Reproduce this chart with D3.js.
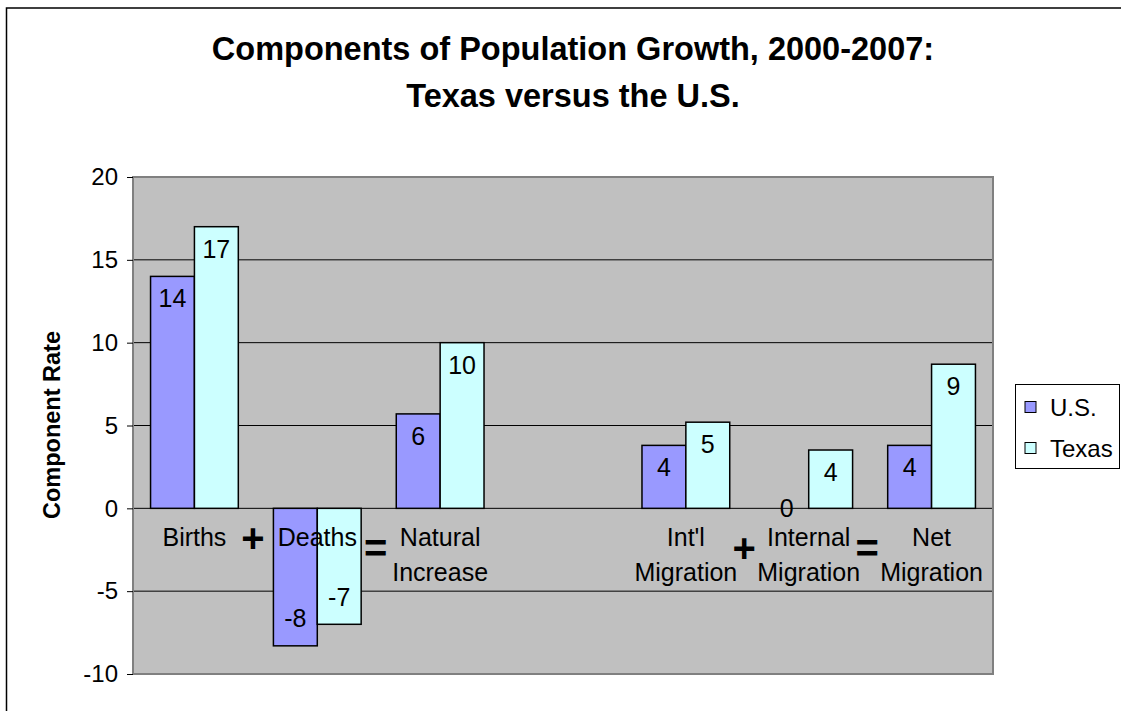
<!DOCTYPE html>
<meta charset="utf-8">
<script src="https://cdn.jsdelivr.net/npm/d3@7/dist/d3.min.js"></script>
<style>
body { margin: 0; background: #fff; overflow: hidden; }
text { font-family: "Liberation Sans", Arial, sans-serif; fill: #000; }
</style>
<body>
<script>

// data
var categories = ["Births", "Deaths", "Natural Increase", "", "Int'l Migration", "Internal Migration", "Net Migration"];
var series = ["U.S.", "Texas"];
var usValues    = [14.0, -8.3, 5.7, null, 3.8, 0, 3.8];
var texasValues = [17.0, -7.0, 10.0, null, 5.2, 3.52, 8.7];
var colors = ["#9999FF", "#CCFFFF"];
var yTicks = [-10, -5, 0, 5, 10, 15, 20];
// operators placed between two categories
var operators = [
  {after: 0, sym: "+", y: 538},
  {after: 1, sym: "=", y: 548},
  {after: 4, sym: "+", y: 548},
  {after: 5, sym: "=", y: 548}
];

var width = 1121, height = 711;
var plot = {left: 133, right: 993, top: 177, bottom: 674};
var fmt = function(v) { return String(Math.round(v)); };

var svg = d3.select("body").append("svg")
    .attr("width", width)
    .attr("height", height)
    .style("display", "block");

// outer frame (only top and left edges fall inside the picture)
svg.append("path")
    .attr("d", "M6.5," + height + "V8H" + width)
    .attr("fill", "none")
    .attr("stroke", "#000")
    .attr("stroke-width", 1.5);

var x0 = d3.scaleBand()
    .domain(d3.range(categories.length))
    .range([plot.left, plot.right]);

var x1 = d3.scaleBand()
    .domain(series)
    .range([0, x0.bandwidth()])
    .paddingInner(0)
    .paddingOuter(0.4);

var y = d3.scaleLinear()
    .domain([-10, 20])
    .range([plot.bottom, plot.top]);

// plot area
svg.append("rect")
    .attr("x", plot.left).attr("y", plot.top)
    .attr("width", plot.right - plot.left)
    .attr("height", plot.bottom - plot.top)
    .attr("fill", "#C0C0C0");

// gridlines
svg.append("g").selectAll("line")
    .data(yTicks.filter(function(t) { return t != -10 && t != 20; }))
    .enter().append("line")
    .attr("x1", plot.left).attr("x2", plot.right)
    .attr("y1", function(d) { return y(d); })
    .attr("y2", function(d) { return y(d); })
    .attr("stroke", "#000")
    .attr("stroke-width", 1);

svg.append("rect")
    .attr("x", plot.left).attr("y", plot.top)
    .attr("width", plot.right - plot.left)
    .attr("height", plot.bottom - plot.top)
    .attr("fill", "none")
    .attr("stroke", "#808080")
    .attr("stroke-width", 2);

// y axis
var yAxis = svg.append("g")
    .attr("transform", "translate(" + plot.left + ",0)")
    .call(d3.axisLeft(y).tickValues(yTicks).tickSize(6).tickPadding(9).tickFormat(fmt));
yAxis.select(".domain").remove();
yAxis.selectAll(".tick line").attr("stroke", "#000");
yAxis.selectAll(".tick text")
    .attr("font-size", null)
    .style("font-size", "24px")
    .style("font-family", "'Liberation Sans', Arial, sans-serif")
    .attr("fill", "#000");

svg.append("text")
    .attr("transform", "translate(60,425) rotate(-90)")
    .attr("text-anchor", "middle")
    .style("font-size", "23.5px")
    .style("font-weight", "bold")
    .text("Component Rate");

// bars
var rows = [];
categories.forEach(function(c, i) {
  [usValues, texasValues].forEach(function(vals, s) {
    if (vals[i] != null) rows.push({cat: i, s: s, name: series[s], value: vals[i]});
  });
});

svg.append("g").selectAll("rect")
    .data(rows.filter(function(d) { return d.value != 0; }))
    .enter().append("rect")
    .attr("x", function(d) { return x0(d.cat) + x1(d.name); })
    .attr("width", x1.bandwidth())
    .attr("y", function(d) { return y(Math.max(0, d.value)); })
    .attr("height", function(d) { return Math.abs(y(d.value) - y(0)); })
    .attr("fill", function(d) { return colors[d.s]; })
    .attr("stroke", "#000")
    .attr("stroke-width", 1.5);

// category labels (drawn over bars)
var catG = svg.append("g");
categories.forEach(function(c, i) {
  var words = c.split(" ");
  var t = catG.append("text")
      .attr("text-anchor", "middle")
      .style("font-size", "25px");
  words.forEach(function(w, k) {
    t.append("tspan")
        .attr("x", x0(i) + x0.bandwidth() / 2)
        .attr("y", 546 + k * 35)
        .text(w);
  });
});

// value labels
svg.append("g").selectAll("text")
    .data(rows)
    .enter().append("text")
    .attr("text-anchor", "middle")
    .style("font-size", "25px")
    .attr("x", function(d) { return x0(d.cat) + x1(d.name) + x1.bandwidth() / 2; })
    .attr("y", function(d) {
      if (d.value > 0) return y(d.value) + 31;
      if (d.value < 0) return y(d.value) - 18.5;
      return y(0) + 8.5;
    })
    .text(function(d) { return fmt(d.value); });

// operators
svg.append("g").selectAll("text")
    .data(operators)
    .enter().append("text")
    .attr("text-anchor", "middle")
    .attr("dominant-baseline", "central")
    .style("font-size", "40px")
    .style("font-weight", "bold")
    .attr("x", function(d) { return x0(d.after) + x0.bandwidth() - 3; })
    .attr("y", function(d) { return d.y; })
    .text(function(d) { return d.sym; });

// title
svg.append("text")
    .attr("x", 573).attr("y", 60)
    .attr("text-anchor", "middle")
    .style("font-size", "32.5px")
    .style("font-weight", "bold")
    .text("Components of Population Growth, 2000-2007:");
svg.append("text")
    .attr("x", 573).attr("y", 107)
    .attr("text-anchor", "middle")
    .style("font-size", "32.5px")
    .style("font-weight", "bold")
    .text("Texas versus the U.S.");

// legend
var legend = svg.append("g").attr("transform", "translate(1015,384)");
legend.append("rect")
    .attr("x", 0.5).attr("y", 0.5)
    .attr("width", 104).attr("height", 84)
    .attr("fill", "#fff")
    .attr("stroke", "#000")
    .attr("stroke-width", 1);
series.forEach(function(s, i) {
  var g = legend.append("g").attr("transform", "translate(0," + (23 + i * 41) + ")");
  g.append("rect")
      .attr("x", 10).attr("y", -5.5)
      .attr("width", 11).attr("height", 11)
      .attr("fill", colors[i])
      .attr("stroke", "#000")
      .attr("stroke-width", 1);
  g.append("text")
      .attr("x", 35).attr("y", 8.5)
      .style("font-size", "24px")
      .text(s);
});

</script>
</body>
